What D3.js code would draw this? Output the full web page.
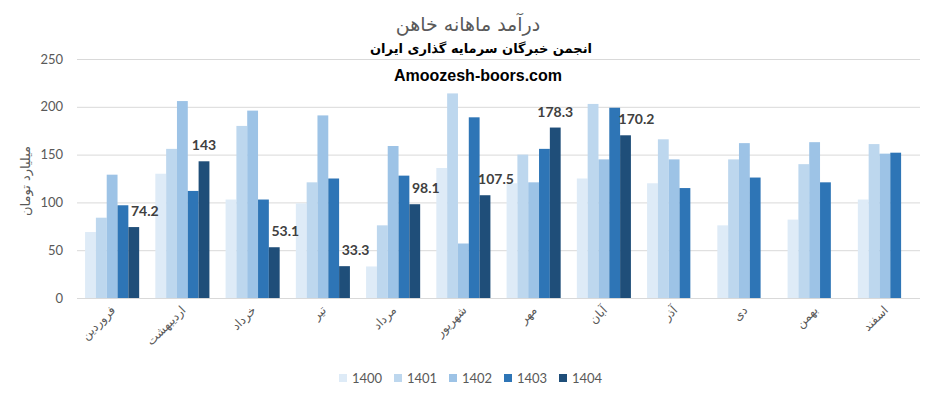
<!DOCTYPE html>
<meta charset="utf-8">
<head>
  <title>درآمد ماهانه خاهن</title>
</head>
<style>
body { margin: 0; background: #fff; }
svg { display: block; }
.fa { font-family: "DejaVu Sans", sans-serif; }
.num { font-family: Lato, "Liberation Sans", sans-serif; }
</style>
<body>
  <svg width="937" height="397"></svg>

  <script src="https://cdn.jsdelivr.net/npm/d3@7"></script>
  <script>
var months = ['فروردین', 'اردیبهشت', 'خرداد', 'تیر', 'مرداد', 'شهریور', 'مهر', 'آبان', 'آذر', 'دی', 'بهمن', 'اسفند'];
var years = ['1400', '1401', '1402', '1403', '1404'];

var v1400 = [69, 130, 103, 99, 33, 136, 120, 125, 120, 76, 82, 103];
var v1401 = [84, 156, 180, 121, 76, 214, 150, 203, 166, 145, 140, 161];
var v1402 = [129, 206, 196, 191, 159, 57, 121, 145, 145, 162, 163, 151];
var v1403 = [97, 112, 103, 125, 128, 189, 156, 199, 115, 126, 121, 152];
var v1404 = [74.2, 143, 53.1, 33.3, 98.1, 107.5, 178.3, 170.2, null, null, null, null];

var yTicks = [0, 50, 100, 150, 200, 250];
var colors = ['#deebf7', '#bdd7ee', '#9dc3e6', '#2e75b6', '#1f4e79'];

var seriesValues = [v1400, v1401, v1402, v1403, v1404];

var svg = d3.select('svg');
var plotL = 77, plotR = 920, plotT = 59, plotB = 298;

var x0 = d3.scaleBand().domain(months).range([plotL, plotR]);
var gap = x0.bandwidth() * 0.23;
var x1 = d3.scaleBand().domain(years).range([gap / 2, x0.bandwidth() - gap / 2]);
var y = d3.scaleLinear().domain([0, 250]).range([plotB, plotT]);

// gridlines + y labels
var yAxis = svg.append('g')
  .attr('transform', 'translate(' + plotL + ',0)')
  .call(d3.axisLeft(y).tickValues(yTicks).tickSize(-(plotR - plotL)).tickPadding(14));
yAxis.select('.domain').remove();
yAxis.selectAll('line').attr('stroke', '#d9d9d9');
yAxis.selectAll('text')
  .attr('class', 'num')
  .attr('fill', '#595959')
  .style('font-size', '13px');

// bars
var groups = svg.append('g').selectAll('g')
  .data(months)
  .enter().append('g')
  .attr('transform', function(d) { return 'translate(' + x0(d) + ',0)'; });

groups.selectAll('rect')
  .data(function(m, i) {
    return years.map(function(yr, k) { return { year: yr, k: k, value: seriesValues[k][i] }; })
      .filter(function(d) { return d.value != null; });
  })
  .enter().append('rect')
  .attr('x', function(d) { return x1(d.year); })
  .attr('width', x1.bandwidth())
  .attr('y', function(d) { return y(d.value); })
  .attr('height', function(d) { return y(0) - y(d.value); })
  .attr('fill', function(d) { return colors[d.k]; });

// data labels for 1404 (nudged right when the 1403 bar is taller)
svg.append('g').selectAll('text')
  .data(months.map(function(m, i) { return { month: m, value: v1404[i], prev: v1403[i] }; })
    .filter(function(d) { return d.value != null; }))
  .enter().append('text')
  .attr('class', 'num')
  .attr('text-anchor', 'middle')
  .attr('x', function(d) {
    var cx = x0(d.month) + x1('1404') + x1.bandwidth() / 2;
    return d.prev > d.value ? cx + 11 : cx;
  })
  .attr('y', function(d) { return y(d.value) - 11; })
  .attr('fill', '#404040')
  .style('font-size', '14px')
  .style('font-weight', 'bold')
  .text(function(d) { return d.value; });

// x labels
var xAxis = svg.append('g')
  .attr('transform', 'translate(0,' + plotB + ')')
  .call(d3.axisBottom(x0).tickSize(0).tickPadding(0));
xAxis.select('.domain').remove();
xAxis.selectAll('text')
  .attr('class', 'fa')
  .attr('fill', '#595959')
  .style('font-size', '12px')
  .attr('text-anchor', 'end')
  .attr('dy', null)
  .attr('y', 0)
  .attr('transform', 'translate(4,13) rotate(-45)');

// y title
svg.append('text')
  .attr('class', 'fa')
  .attr('transform', 'translate(30,181) rotate(-90)')
  .attr('text-anchor', 'middle')
  .attr('fill', '#595959')
  .style('font-size', '13px')
  .text('میلیارد تومان');

// titles
svg.append('text')
  .attr('class', 'fa')
  .attr('x', 468).attr('y', 31)
  .attr('text-anchor', 'middle')
  .attr('fill', '#595959')
  .style('font-size', '19px')
  .text('درآمد ماهانه خاهن');

svg.append('text')
  .attr('class', 'fa')
  .attr('x', 481).attr('y', 53)
  .attr('text-anchor', 'middle')
  .attr('fill', '#000')
  .style('font-size', '13px')
  .style('font-weight', 'bold')
  .text('انجمن خبرگان سرمایه گذاری ایران');

svg.append('text')
  .attr('x', 478).attr('y', 81)
  .attr('text-anchor', 'middle')
  .attr('fill', '#000')
  .style('font-family', '"Liberation Sans", Arial, sans-serif')
  .style('font-size', '16px')
  .style('font-weight', 'bold')
  .text('Amoozesh-boors.com');

// legend
var legend = svg.append('g').selectAll('g')
  .data(years)
  .enter().append('g')
  .attr('transform', function(d, i) { return 'translate(' + (339 + i * 55) + ',374)'; });
legend.append('rect')
  .attr('width', 8).attr('height', 8)
  .attr('fill', function(d, i) { return colors[i]; });
legend.append('text')
  .attr('class', 'num')
  .attr('x', 13).attr('y', 9)
  .attr('fill', '#595959')
  .style('font-size', '13px')
  .text(function(d) { return d; });
  </script>
</body>
</html>
